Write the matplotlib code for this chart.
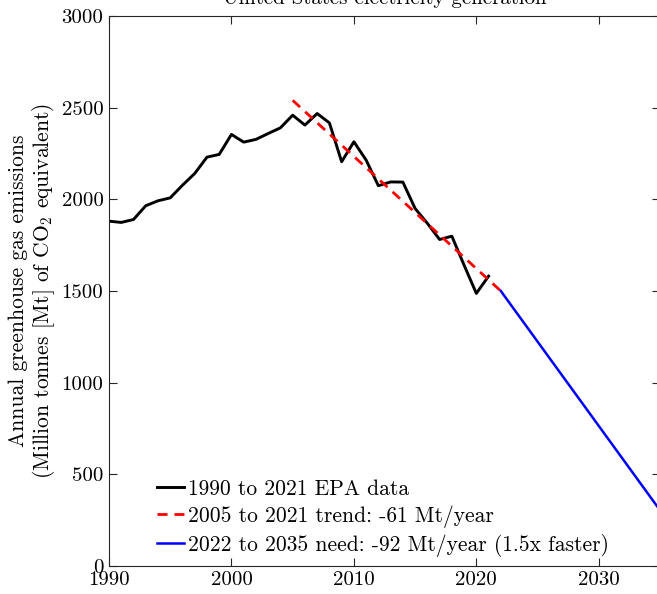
import matplotlib
matplotlib.use("Agg")
import matplotlib.pyplot as plt

plt.rcParams['font.family'] = ['cmr10', 'DejaVu Serif']
plt.rcParams['mathtext.fontset'] = 'cm'
plt.rcParams['axes.formatter.use_mathtext'] = True

# EPA data
years = list(range(1990, 2022))
emissions = [1881, 1874, 1890, 1965, 1992, 2008, 2077, 2141, 2230, 2245,
             2354, 2312, 2327, 2359, 2390, 2459, 2405, 2468, 2417, 2205,
             2314, 2214, 2074, 2095, 2094, 1950, 1869, 1781, 1799, 1641,
             1487, 1581]

# Trend 2005-2021 (-61 Mt/year)
trend_years = [2005, 2022]
trend_values = [2540, 1500]

# Need 2022-2035 (-92 Mt/year)
need_years = [2022, 2035]
need_values = [1500, 304]

labels = ["1990 to 2021 EPA data",
          "2005 to 2021 trend: -61 Mt/year",
          "2022 to 2035 need: -92 Mt/year (1.5x faster)"]

xticks = [1990, 2000, 2010, 2020, 2030]
yticks = [0, 500, 1000, 1500, 2000, 2500, 3000]

W, H = 657, 594
fig = plt.figure(figsize=(W / 100, H / 100), dpi=100)
ax = fig.add_axes([109 / W, 1 - 566 / H, (660 - 109) / W, (566 - 16) / H])

ax.plot(years, emissions, color='black', lw=2.1, label=labels[0])
ax.plot(trend_years, trend_values, color='red', lw=2.0, dashes=(3.6, 2.5), label=labels[1])
ax.plot(need_years, need_values, color='blue', lw=1.8, label=labels[2])

ax.set_xlim(1990, 2035)
ax.set_ylim(0, 3000)
ax.set_xticks(xticks)
ax.set_yticks(yticks)
ax.set_xticklabels([str(v) for v in xticks])
ax.set_yticklabels([str(v) for v in yticks])
ax.tick_params(direction='in', top=True, right=True, length=6, width=0.8,
               labelsize=15, color='#262626', pad=4)
for s in ax.spines.values():
    s.set_color('#262626')
    s.set_linewidth(0.8)

ax.set_ylabel("Annual greenhouse gas emissions\n(Million tonnes [Mt] of CO$_2$ equivalent)",
              fontsize=15.5, labelpad=3, linespacing=1.15)
ax.set_title("United States electricity generation", fontsize=15, pad=8.5)

leg = ax.legend(loc='lower left', frameon=False, fontsize=15.5, handlelength=1.25,
                handletextpad=0.19, labelspacing=0.3, borderpad=0.0,
                borderaxespad=0.42, bbox_to_anchor=(0.071, 0.0))

fig.savefig("out.png", dpi=100)
